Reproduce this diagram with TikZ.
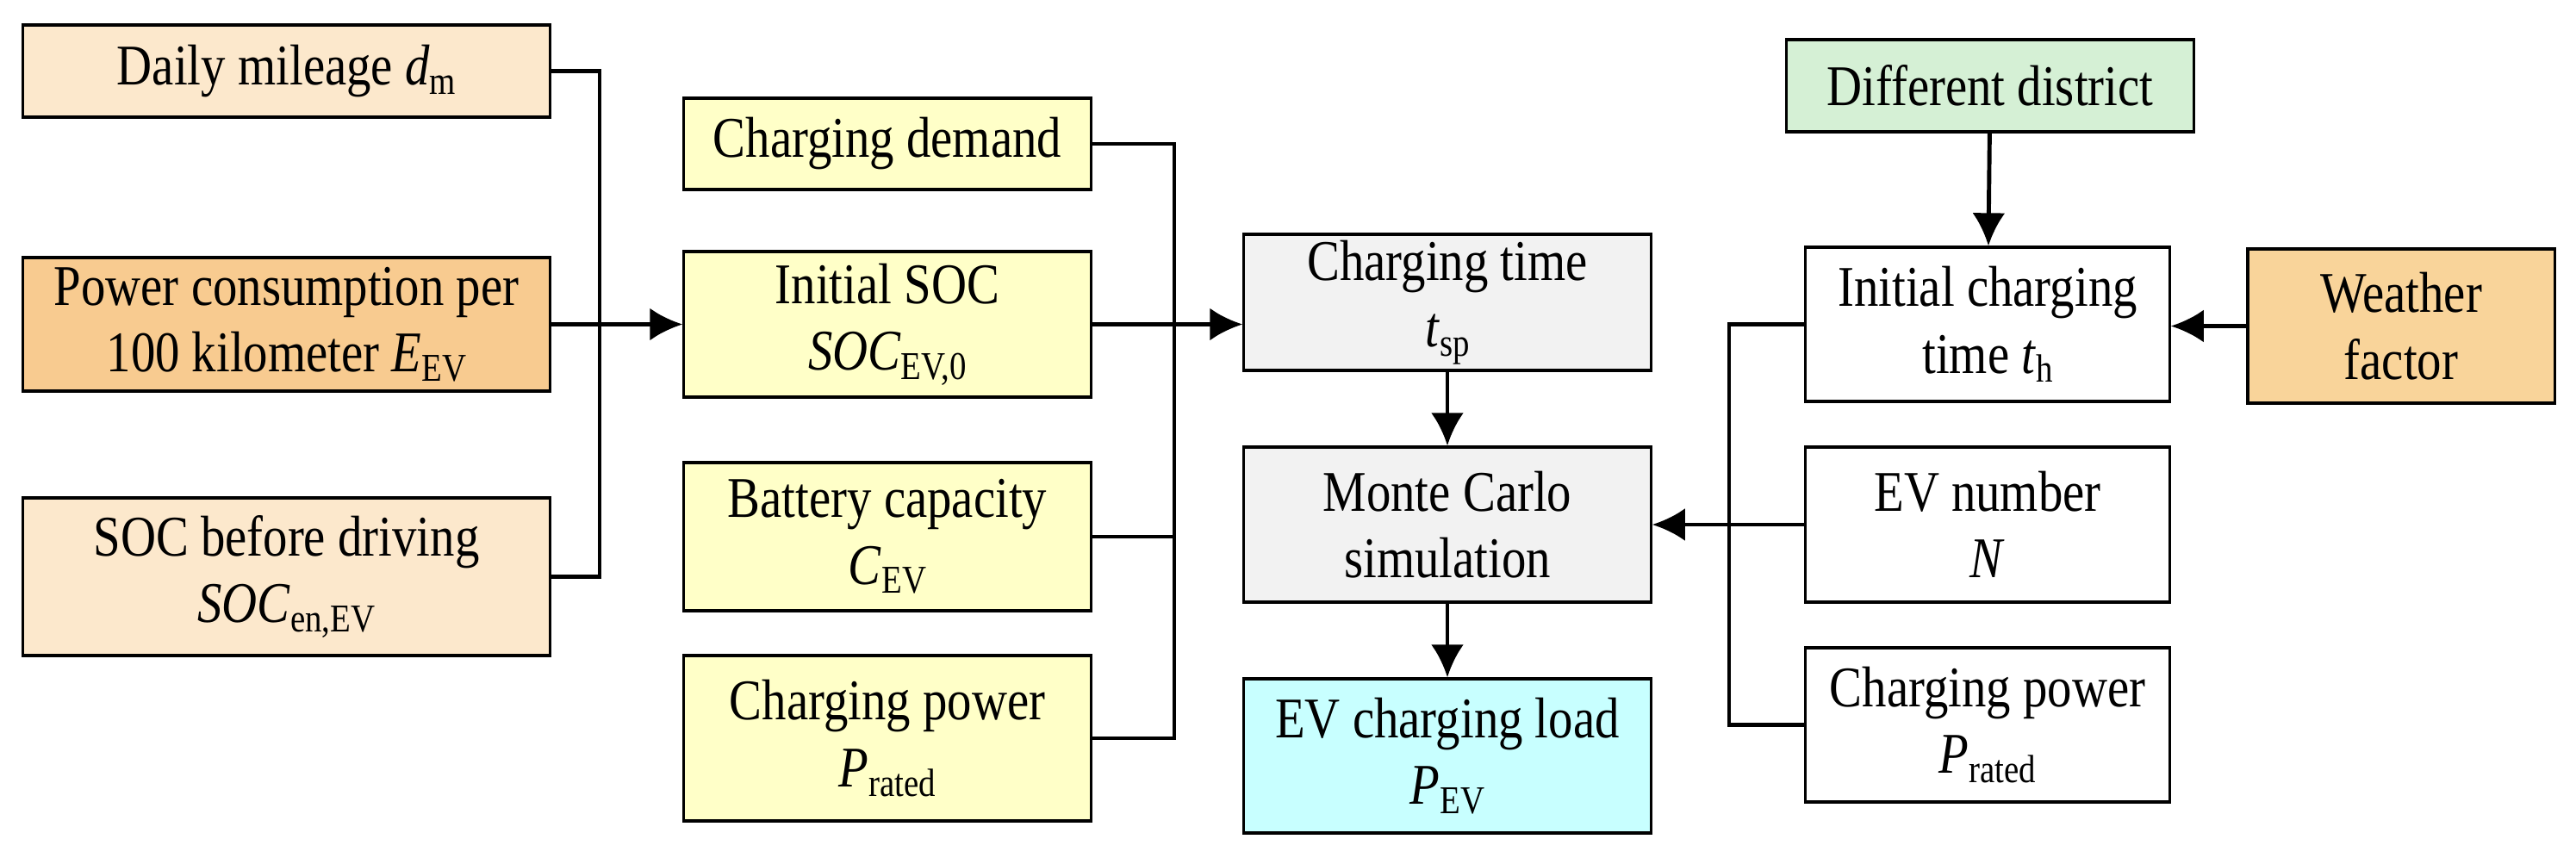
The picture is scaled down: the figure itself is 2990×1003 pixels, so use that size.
\documentclass[tikz,border=0pt]{standalone}
\usepackage{fontspec}
\setmainfont{Liberation Serif}[FakeStretch=0.85]
\usetikzlibrary{arrows.meta}
\newcommand{\sbs}[1]{\raisebox{-0.35ex}{\fontsize{13}{13}\selectfont #1}}
\definecolor{cbeige}{HTML}{FCE8CC}
\definecolor{corange}{HTML}{F8CB90}
\definecolor{cyel}{HTML}{FFFFC8}
\definecolor{cgray}{HTML}{F2F2F2}
\definecolor{ccyan}{HTML}{C8FFFF}
\definecolor{cgreen}{HTML}{D5F0D5}
\definecolor{cweather}{HTML}{F9D49A}
\begin{document}
\begin{tikzpicture}[x=0.01cm,y=-0.01cm,
  box/.style={draw=black,line width=0.9pt,align=center,inner sep=0pt,
    font=\fontsize{19}{22}\selectfont},
  ln/.style={line width=1.4pt},
  ar/.style={ln,-{Latex[length=3.8mm,width=3.8mm]}}]
\useasboundingbox (0,0) rectangle (2990,1003);
\node[box,fill=cbeige,minimum width=6.11cm,minimum height=1.07cm] (daily) at (332.5,82.5) {Daily mileage \textit{d}\sbs{m}};
\node[box,fill=corange,minimum width=6.11cm,minimum height=1.55cm] (power) at (332.5,376.5) {Power consumption per\\100 kilometer \textit{E}\sbs{EV}};
\node[box,fill=cbeige,minimum width=6.11cm,minimum height=1.83cm] (socb) at (332.5,669.5) {SOC before driving\\\textit{SOC}\sbs{en,EV}};
\node[box,fill=cyel,minimum width=4.72cm,minimum height=1.06cm] (demand) at (1030,167) {Charging demand};
\node[box,fill=cyel,minimum width=4.72cm,minimum height=1.69cm] (isoc) at (1030,376.5) {Initial SOC\\\textit{SOC}\sbs{EV,0}};
\node[box,fill=cyel,minimum width=4.72cm,minimum height=1.72cm] (batt) at (1030,623) {Battery capacity\\\textit{C}\sbs{EV}};
\node[box,fill=cyel,minimum width=4.72cm,minimum height=1.92cm] (cpow) at (1030,857) {Charging power\\\textit{P}\sbs{rated}};
\node[box,fill=cgray,minimum width=4.72cm,minimum height=1.58cm] (ctime) at (1680,351) {Charging time\\\textit{t}\sbs{sp}};
\node[box,fill=cgray,minimum width=4.72cm,minimum height=1.80cm] (mc) at (1680,609) {Monte Carlo\\simulation};
\node[box,fill=ccyan,minimum width=4.72cm,minimum height=1.79cm] (load) at (1680,877.5) {EV charging load\\\textit{P}\sbs{EV}};
\node[box,fill=cgreen,minimum width=4.72cm,minimum height=1.07cm] (district) at (2310,99.5) {Different district};
\node[box,fill=white,minimum width=4.22cm,minimum height=1.79cm] (ict) at (2307,376.5) {Initial charging\\time \textit{t}\sbs{h}};
\node[box,fill=cweather,minimum width=3.56cm,minimum height=1.79cm] (weather) at (2787,378.5) {Weather\\factor};
\node[box,fill=white,minimum width=4.22cm,minimum height=1.80cm] (evn) at (2307,609) {EV number\\\textit{N}};
\node[box,fill=white,minimum width=4.22cm,minimum height=1.79cm] (cpr) at (2307,841.5) {Charging power\\\textit{P}\sbs{rated}};
\coordinate (t1) at (696,0);
\coordinate (t2) at (1363,0);
\coordinate (t3) at (2007,0);
% left group
\draw[ln] (daily.east) -- (daily.east -| t1) -- (socb.east -| t1) -- (socb.east);
\draw[ar] (power.east) -- (isoc.west);
% middle group
\draw[ln] (demand.east) -- (demand.east -| t2) -- (cpow.east -| t2) -- (cpow.east);
\draw[ln] (batt.east) -- (batt.east -| t2);
\draw[ar] (isoc.east) -- (isoc.east -| ctime.west);
\draw[ar] (ctime) -- (mc);
\draw[ar] (mc) -- (load);
% right group
\draw[ar] (district) -- (ict);
\draw[ar] (weather.west) -- (weather.west -| ict.east);
\draw[ln] (ict.west) -- (ict.west -| t3) -- (cpr.west -| t3) -- (cpr.west);
\draw[ar] (evn.west) -- (evn.west -| mc.east);
\end{tikzpicture}
\end{document}
